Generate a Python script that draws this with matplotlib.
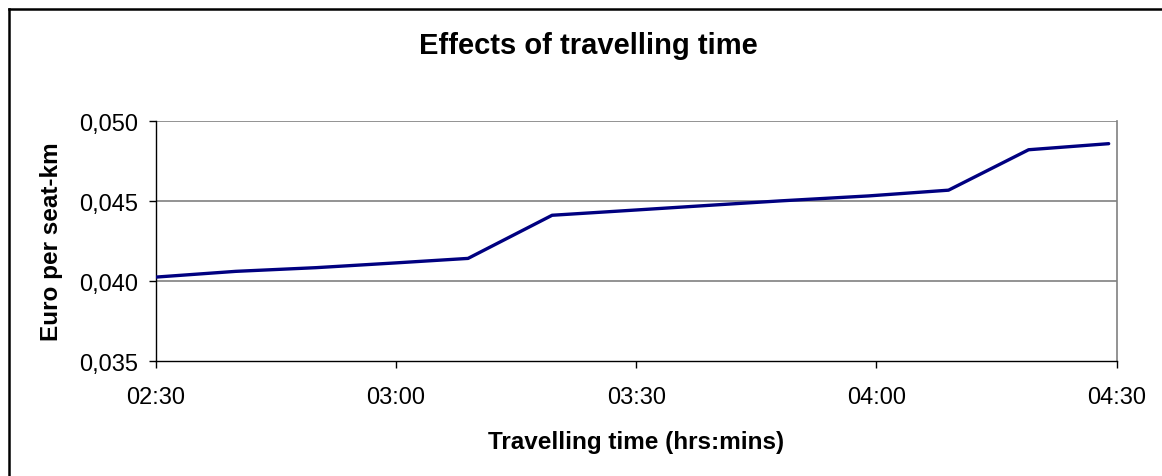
import matplotlib
matplotlib.use("Agg")
import matplotlib.pyplot as plt
from matplotlib.lines import Line2D

plt.rcParams['font.family'] = ['Liberation Sans', 'DejaVu Sans']

# travelling time in minutes, cost in euro per seat-km
minutes = [150, 160, 170, 180, 189, 199.5, 210, 220, 228, 239, 249, 259, 269]
cost = [0.04025, 0.04061, 0.04084, 0.04114, 0.04142, 0.04412, 0.04445,
        0.04477, 0.04502, 0.04533, 0.04569, 0.04822, 0.04860]

x_ticks = [150, 180, 210, 240, 270]
x_labels = ["02:30", "03:00", "03:30", "04:00", "04:30"]
y_ticks = [0.035, 0.040, 0.045, 0.050]
y_labels = ["0,035", "0,040", "0,045", "0,050"]

fig = plt.figure(figsize=(11.62, 4.77), dpi=100)
ax = fig.add_axes([155.7/1162, 1-362/477, (1116.7-155.7)/1162, (362-122.3)/477])

ax.plot(minutes, cost, color="#000080", lw=2.4, solid_capstyle="round", zorder=3)

ax.set_xlim(150, 270)
ax.set_ylim(0.035, 0.050)
ax.set_xticks(x_ticks)
ax.set_xticklabels(x_labels)
ax.set_yticks(y_ticks)
ax.set_yticklabels(y_labels)
ax.tick_params(axis="both", direction="out", length=5, width=1, labelsize=17, pad=8)
ax.tick_params(axis="x", pad=13)

for y in y_ticks[1:]:
    ax.axhline(y, color="#808080", lw=1.2, zorder=1)
ax.spines["top"].set_visible(False)
ax.spines["right"].set_color("#808080")
ax.spines["right"].set_linewidth(1.2)
ax.spines["left"].set_linewidth(1)
ax.spines["bottom"].set_linewidth(1)

ax.set_xlabel("Travelling time (hrs:mins)", fontsize=17.5, fontweight="bold", labelpad=16)
ax.set_ylabel("Euro per seat-km", fontsize=17.5, fontweight="bold", labelpad=11)
fig.text(588/1162, 1-46/477, "Effects of travelling time", fontsize=21, fontweight="bold",
         ha="center", va="center")

# outer chart frame (right and bottom edges are cut off)
fig.add_artist(Line2D([9/1162, 9/1162], [0, 1-10/477], color="black", lw=1.8))
fig.add_artist(Line2D([9/1162, 1], [1-10/477, 1-10/477], color="black", lw=1.8))

fig.savefig("out.png", dpi=100)
